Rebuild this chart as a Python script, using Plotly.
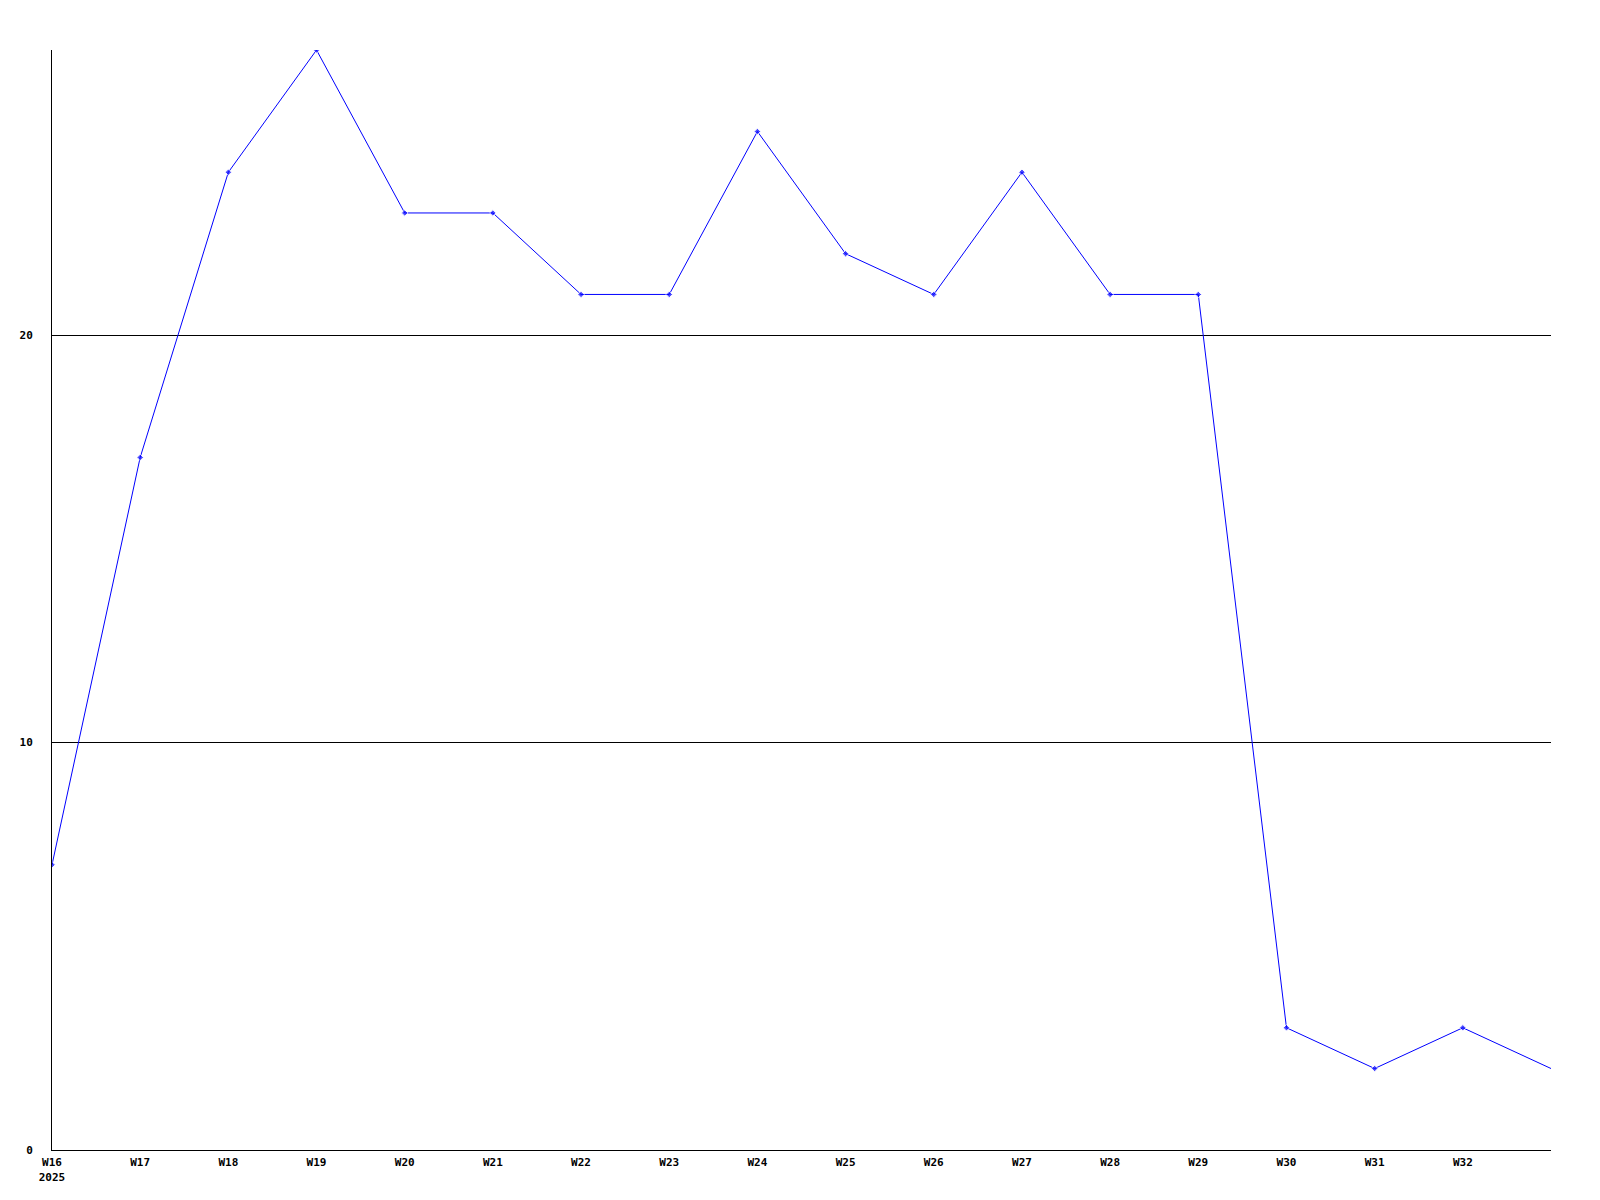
import plotly.graph_objects as go

weeks = ["W16", "W17", "W18", "W19", "W20", "W21", "W22", "W23", "W24",
         "W25", "W26", "W27", "W28", "W29", "W30", "W31", "W32", "W33"]
values = [7, 17, 24, 27, 23, 23, 21, 21, 25, 22, 21, 24, 21, 21, 3, 2, 3, 2]
tick_labels = ["W16<br>2025", "W17", "W18", "W19", "W20", "W21", "W22", "W23",
               "W24", "W25", "W26", "W27", "W28", "W29", "W30", "W31", "W32"]
y_ticks = [0, 10, 20]

x = list(range(len(weeks)))
marker_sizes = [5] * (len(weeks) - 1) + [0]

fig = go.Figure()
fig.add_trace(go.Scatter(
    x=x, y=values, mode="lines+markers",
    line=dict(color="#0000ff", width=1),
    marker=dict(symbol="diamond", size=marker_sizes, color="#0000ff"),
    cliponaxis=True, showlegend=False,
))

tf = dict(family="DejaVu Sans Mono", size=11, color="black", weight="bold")

fig.update_layout(
    width=1600, height=1200,
    margin=dict(l=42, r=57, t=42, b=58),
    paper_bgcolor="white", plot_bgcolor="white",
    font=dict(family="DejaVu Sans Mono", size=11, color="black"),
    xaxis=dict(
        range=[0, 17], tickvals=x[:len(tick_labels)], ticktext=tick_labels,
        showgrid=False, zeroline=False, showline=True, linecolor="black",
        linewidth=1, ticks="", tickfont=tf,
        ticklabelstandoff=2, fixedrange=True,
    ),
    yaxis=dict(
        range=[0, 27], tickvals=y_ticks, ticktext=[str(v) for v in y_ticks],
        showgrid=True, gridcolor="black", gridwidth=1, zeroline=False,
        showline=True, linecolor="black", linewidth=1, ticks="",
        tickfont=tf, ticklabelstandoff=16, fixedrange=True,
    ),
)

fig.write_html("out.html")
